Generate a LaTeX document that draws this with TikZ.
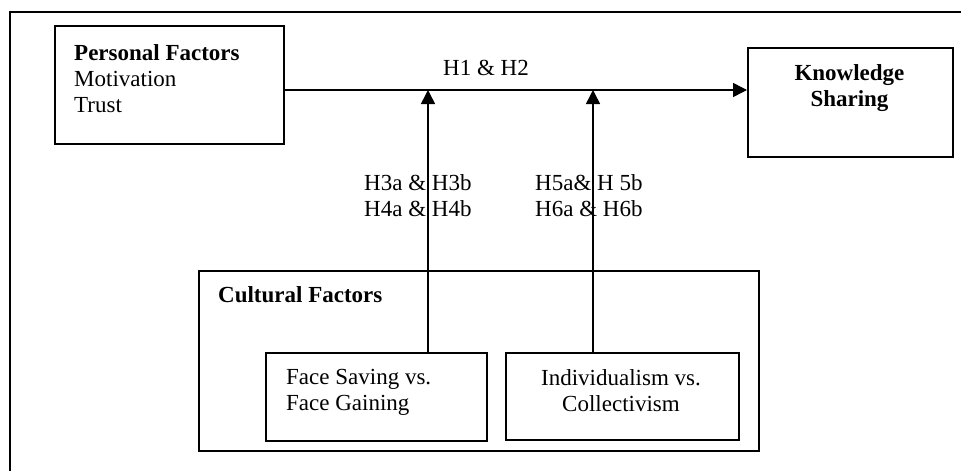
\documentclass[tikz,border=0pt]{standalone}
\usepackage{fontspec}
\setmainfont{Liberation Serif}
\usetikzlibrary{arrows.meta}
\begin{document}
\begin{tikzpicture}[x=1pt,y=-1pt,
  box/.style={draw, line width=1.5pt, inner sep=0pt, anchor=north west},
  lbl/.style={inner sep=0pt, font=\fontsize{23}{26}\selectfont},
  conn/.style={line width=1.5pt, -{Triangle[length=14pt,width=14pt]}},
  frame/.style={line width=1.8pt}]
\useasboundingbox (0,0) rectangle (961,471);
% outer frame (cut at right and bottom)
\coordinate (ftr) at (961,12);
\coordinate (ftl) at (10,12);
\coordinate (fbl) at (10,471);
\draw[frame] (ftr) -- (ftl) -- (fbl);
% boxes
\node[box, minimum width=229, minimum height=118] (pf) at (54,25) {};
\node[box, minimum width=205, minimum height=109] (ks) at (747,47) {};
\node[box, minimum width=560, minimum height=180] (cf) at (198,270) {};
\node[box, minimum width=221, minimum height=88] (fs) at (265,352) {};
\node[box, minimum width=233, minimum height=87] (ic) at (505,352) {};
% texts
\node[lbl, anchor=north west, align=left] (pft) at (74,44) {\textbf{Personal Factors}\\Motivation\\Trust};
\node[lbl, anchor=north, align=center] (kst) at (849.5,64) {\textbf{Knowledge}\\\textbf{Sharing}};
\node[lbl, anchor=west] (cft) at (218,295) {\textbf{Cultural Factors}};
\node[lbl, anchor=north west, align=left] (fst) at (286,369) {Face Saving vs.\\Face Gaining};
\node[lbl, anchor=north, align=center] (ict) at (621,369) {Individualism vs.\\Collectivism};
% connectors
\draw[conn] (pf.east |- 0,90) coordinate (m0) -- (ks.west |- m0);
\coordinate (j1) at (428,90);
\coordinate (j2) at (593,90);
\draw[conn] (fs.north -| j1) -- (j1);
\draw[conn] (ic.north -| j2) -- (j2);
% labels
\node[lbl] (h12) at (486,68) {H1 \& H2};
\node[lbl, anchor=west, align=left] (h34) at (364,196) {H3a \& H3b\\H4a \& H4b};
\node[lbl, anchor=west, align=left] (h56) at (535,196) {H5a\& H 5b\\H6a \& H6b};
\end{tikzpicture}
\end{document}
